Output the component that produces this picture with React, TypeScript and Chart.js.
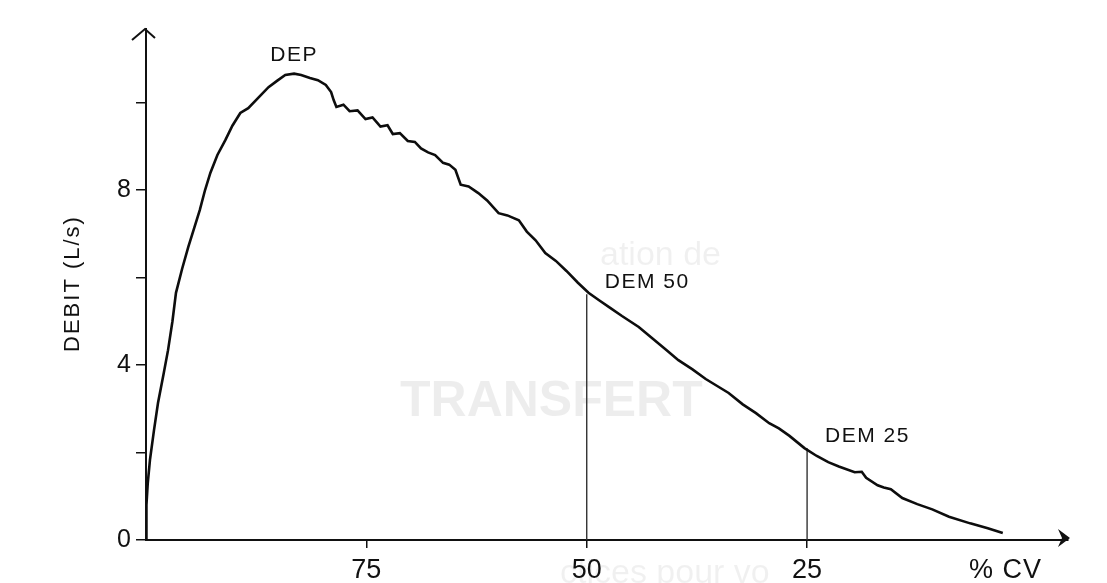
import React, { useEffect, useRef } from "react";
import { Chart, registerables } from "chart.js";

Chart.register(...registerables);

// Flow-volume curve: % of vital capacity (100 -> 0) vs flow (L/s)
const cvPct = [
  100, 99.95, 99.8, 99.55, 99.1, 98.64, 98.0, 97.5, 97.0, 96.6, 95.9, 95.2, 94.5, 93.9, 93.3, 92.7,
  91.9, 91.0, 90.2, 89.3, 88.4, 87.3, 86.1, 85.1, 84.2, 83.2, 82.4, 81.4, 80.5, 79.6, 79.0, 78.7,
  78.4, 77.6, 76.9, 76.0, 75.1, 74.3, 73.4, 72.6, 72.0, 71.2, 70.3, 69.5, 68.8, 68.0, 67.2, 66.3,
  65.6, 64.9, 64.3, 63.4, 62.3, 61.3, 60.0, 59.0, 57.7, 56.8, 55.8, 54.7, 53.5, 52.3, 51.0, 49.8,
  48.6, 47.3, 46.0, 44.1, 42.5, 41.0, 39.6, 38.0, 36.5, 35.2, 33.9, 32.3, 30.8, 29.3, 28.2, 27.0,
  25.3, 23.9, 22.6, 21.4, 19.6, 18.8, 18.3, 17.0, 16.3, 15.5, 14.2, 12.5, 10.8, 8.9, 6.5, 4.5, 2.8,
];
const flow = [
  0, 0.8, 1.3, 1.83, 2.5, 3.13, 3.8, 4.34, 5.0, 5.65, 6.2, 6.7, 7.15, 7.54, 8.0, 8.39,
  8.8, 9.14, 9.47, 9.76, 9.87, 10.1, 10.35, 10.5, 10.63, 10.66, 10.63, 10.56, 10.51, 10.4, 10.24, 10.05,
  9.9, 9.95, 9.8, 9.82, 9.62, 9.66, 9.45, 9.48, 9.28, 9.3, 9.12, 9.1, 8.95, 8.86, 8.8, 8.62,
  8.58, 8.46, 8.12, 8.08, 7.93, 7.76, 7.47, 7.42, 7.31, 7.05, 6.85, 6.56, 6.38, 6.15, 5.88, 5.65,
  5.48, 5.3, 5.12, 4.87, 4.6, 4.35, 4.11, 3.9, 3.68, 3.52, 3.36, 3.1, 2.9, 2.67, 2.55, 2.38,
  2.1, 1.92, 1.78, 1.68, 1.55, 1.56, 1.42, 1.25, 1.2, 1.16, 0.96, 0.82, 0.7, 0.53, 0.38, 0.27, 0.16,
];

const markerCv = [50, 25];
const markerFlow = [5.62, 2.1];
const markerLabels = ["DEM 50", "DEM 25"];
const peakLabel = "DEP";

const xTickValues = [75, 50, 25];
const xTickLabels = ["75", "50", "25"];
const yTickValues = [0, 2, 4, 6, 8, 10];
const yLabelled = [0, 4, 8];
const yTitle = "DEBIT (L/s)";
const xTitle = "% CV";

const FONT = "'Liberation Sans', Arial, sans-serif";
const INK = "#111111";

const decorPlugin = {
  id: "decor",
  beforeDraw(chart: any) {
    const ctx = chart.ctx;
    ctx.save();
    ctx.fillStyle = "#ffffff";
    ctx.fillRect(0, 0, chart.width, chart.height);
    // faint show-through of the scanned page
    ctx.textBaseline = "middle";
    ctx.fillStyle = "rgba(0,0,0,0.07)";
    ctx.font = `bold 50px ${FONT}`;
    ctx.fillText("TRANSFERT", 400, 402);
    ctx.fillStyle = "rgba(0,0,0,0.06)";
    ctx.font = `34px ${FONT}`;
    ctx.fillText("ctices pour vo", 560, 574);
    ctx.fillText("ation de", 600, 256);
    ctx.restore();
  },
  afterDraw(chart: any) {
    const ctx = chart.ctx;
    const xs = chart.scales.x;
    const ys = chart.scales.y;
    const area = chart.chartArea;
    ctx.save();
    ctx.strokeStyle = INK;
    ctx.fillStyle = INK;
    ctx.lineWidth = 2;
    // y-axis arrow (open chevron)
    ctx.beginPath();
    ctx.moveTo(area.left - 14, area.top + 11);
    ctx.lineTo(area.left - 1, area.top);
    ctx.lineTo(area.left + 9, area.top + 9);
    ctx.stroke();
    // x-axis arrow
    ctx.beginPath();
    ctx.moveTo(area.right + 2, area.bottom - 2);
    ctx.lineTo(area.right - 10, area.bottom - 11);
    ctx.lineTo(area.right - 6, area.bottom - 2);
    ctx.lineTo(area.right - 10, area.bottom + 7);
    ctx.closePath();
    ctx.fill();

    // texts
    ctx.fillStyle = INK;
    ctx.textBaseline = "middle";
    (ctx as any).letterSpacing = "1.5px";
    ctx.font = `21px ${FONT}`;
    // DEP above the peak
    let pi = 0;
    flow.forEach((v, i) => { if (v > flow[pi]) pi = i; });
    const px = xs.getPixelForValue(cvPct[pi]);
    const py = ys.getPixelForValue(flow[pi]);
    ctx.textAlign = "center";
    ctx.fillText(peakLabel, px, py - 18);
    // DEM labels
    ctx.textAlign = "left";
    markerLabels.forEach((lab, i) => {
      const mx = xs.getPixelForValue(markerCv[i]);
      const my = ys.getPixelForValue(markerFlow[i]);
      ctx.fillText(lab, mx + 18, my - 12);
    });
    // x title
    ctx.font = `27px ${FONT}`;
    (ctx as any).letterSpacing = "1px";
    ctx.textAlign = "right";
    ctx.fillText(xTitle, area.right - 26, area.bottom + 31);
    // y title
    ctx.translate(73, (ys.getPixelForValue(4) + ys.getPixelForValue(8)) / 2 + 6);
    ctx.rotate(-Math.PI / 2);
    ctx.textAlign = "center";
    ctx.font = `22px ${FONT}`;
    (ctx as any).letterSpacing = "2px";
    ctx.fillText(yTitle, 0, 0);
    ctx.restore();
  },
};

export default function App() {
  const ref = useRef<HTMLCanvasElement>(null);
  useEffect(() => {
    if (!ref.current) return;
    const curve = cvPct.map((x, i) => ({ x, y: flow[i] }));
    const markerSets = markerCv.map((x, i) => ({
      data: [{ x, y: 0 }, { x, y: markerFlow[i] }],
      borderColor: "#333333",
      borderWidth: 1.4,
      pointRadius: 0,
    }));
    const chart = new Chart(ref.current, {
      type: "line",
      data: {
        datasets: [
          {
            data: curve,
            borderColor: "#0d0d0d",
            borderWidth: 2.6,
            pointRadius: 0,
            tension: 0,
          },
          ...markerSets,
        ],
      },
      options: {
        animation: false,
        responsive: true,
        maintainAspectRatio: false,
        layout: { padding: { top: 29, right: 39, left: 0, bottom: 0 } },
        plugins: { legend: { display: false }, tooltip: { enabled: false } },
        scales: {
          x: {
            type: "linear",
            reverse: true,
            min: -4.6,
            max: 100,
            afterFit: (s: any) => { s.height = 43; },
            afterBuildTicks: (s: any) => { s.ticks = xTickValues.map((v) => ({ value: v })); },
            ticks: {
              callback: (v: any) => {
                const i = xTickValues.indexOf(Number(v));
                return i >= 0 ? xTickLabels[i] : "";
              },
              font: { family: FONT, size: 27 },
              color: INK,
              padding: 6,
              maxRotation: 0,
              autoSkip: false,
            },
            grid: { drawOnChartArea: false, drawTicks: true, tickLength: 8, color: INK, lineWidth: 1.5 },
            border: { display: true, color: INK, width: 2 },
          },
          y: {
            type: "linear",
            min: 0,
            max: 11.68,
            afterFit: (s: any) => { s.width = 146; },
            afterBuildTicks: (s: any) => { s.ticks = yTickValues.map((v) => ({ value: v })); },
            ticks: {
              callback: (v: any) => (yLabelled.includes(Number(v)) ? String(v) : ""),
              font: { family: FONT, size: 25 },
              color: INK,
              padding: 5,
              autoSkip: false,
            },
            grid: { drawOnChartArea: false, drawTicks: true, tickLength: 10, color: INK, lineWidth: 1.5 },
            border: { display: true, color: INK, width: 2 },
          },
        },
      },
      plugins: [decorPlugin],
    } as any);
    return () => chart.destroy();
  }, []);
  return (
    <div style={{ position: "fixed", left: 0, top: 0, width: 1107, height: 583, background: "#fff" }}>
      <canvas ref={ref} />
    </div>
  );
}
